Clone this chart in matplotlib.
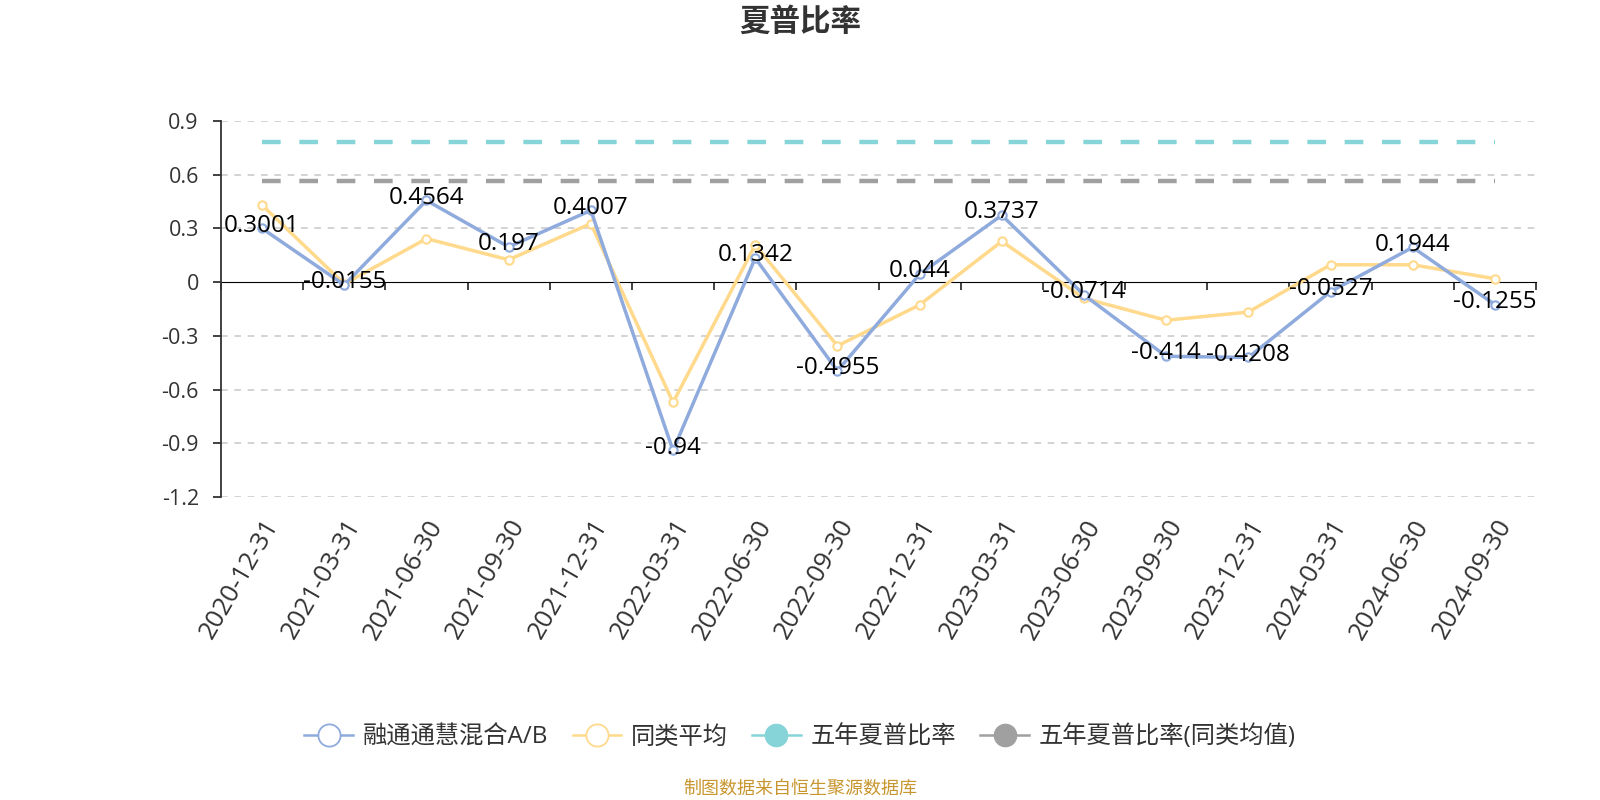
import numpy as np
import matplotlib
matplotlib.use("Agg")
import matplotlib.pyplot as plt
from matplotlib.lines import Line2D

plt.rcParams['font.family'] = ['Open Sans', 'Noto Sans CJK SC', 'DejaVu Sans']

# data
dates = ['2020-12-31', '2021-03-31', '2021-06-30', '2021-09-30', '2021-12-31',
         '2022-03-31', '2022-06-30', '2022-09-30', '2022-12-31', '2023-03-31',
         '2023-06-30', '2023-09-30', '2023-12-31', '2024-03-31', '2024-06-30',
         '2024-09-30']
fund = [0.3001, -0.0155, 0.4564, 0.197, 0.4007, -0.94, 0.1342, -0.4955,
        0.044, 0.3737, -0.0714, -0.414, -0.4208, -0.0527, 0.1944, -0.1255]
peer_avg = [0.43, -0.01, 0.243, 0.125, 0.327, -0.672, 0.208, -0.356,
            -0.127, 0.228, -0.09, -0.213, -0.167, 0.097, 0.097, 0.019]
five_year = 0.785
five_year_peer = 0.565
yticks = [0.9, 0.6, 0.3, 0, -0.3, -0.6, -0.9, -1.2]
ytick_labels = ['0.9', '0.6', '0.3', '0', '-0.3', '-0.6', '-0.9', '-1.2']

c_blue = '#8FAADC'
c_yellow = '#FFD98C'
c_teal = '#86D4D8'
c_gray = '#A0A0A0'
c_text = '#333333'

fig = plt.figure(figsize=(16, 8), dpi=100)
ax = fig.add_axes([221 / 1600, 1 - 497 / 800, (1536 - 221) / 1600, (497 - 121) / 800])

x = np.arange(len(dates))
ax.set_xlim(-0.5, len(dates) - 0.5)
ax.set_ylim(-1.2, 0.9)

# grid
for yv in yticks:
    if yv != 0:
        ax.axhline(yv, color='#CCCCCC', lw=1.2, ls=(0, (4, 4)), zorder=0)

ax.plot(x, [five_year] * len(x), color=c_teal, lw=3.2, dashes=(4.2, 4.2), zorder=2)
ax.plot(x, [five_year_peer] * len(x), color=c_gray, lw=3.2, dashes=(4.2, 4.2), zorder=2)

ax.plot(x, peer_avg, color=c_yellow, lw=2.5, marker='o', ms=6,
        mfc='white', mec=c_yellow, mew=1.5, zorder=3)
ax.plot(x, fund, color=c_blue, lw=2.5, marker='o', ms=6,
        mfc='white', mec=c_blue, mew=1.5, zorder=4)

for xi, v in zip(x, fund):
    ax.annotate(f'{v:g}', (xi, v), xytext=(0, 2), textcoords='offset points',
                ha='center', va='center', fontsize=17.5, color='black', zorder=5)

# spines / ticks
for s in ['top', 'right', 'bottom']:
    ax.spines[s].set_visible(False)
ax.spines['left'].set_color(c_text)
ax.spines['left'].set_linewidth(1.3)
ax.set_yticks(yticks)
ax.set_yticklabels(ytick_labels, fontsize=15.5, color=c_text)
ax.tick_params(axis='y', length=6, width=1.3, color=c_text, pad=10)

ax.set_xticks(x)
ax.set_xticklabels(dates, rotation=60, ha='right', rotation_mode='anchor',
                   fontsize=18.5, color=c_text)
ax.tick_params(axis='x', length=0, pad=13)

# zero axis line with boundary ticks
zero_pos = (0 - (-1.2)) / (0.9 - (-1.2))
sec = ax.secondary_xaxis(zero_pos)
sec.spines['bottom'].set_color(c_text)
sec.spines['bottom'].set_linewidth(1.3)
sec.xaxis.set_ticks_position('bottom')
sec.set_xticks(np.arange(len(dates) + 1) - 0.5)
sec.set_xticklabels([])
sec.tick_params(axis='x', direction='out', length=6, width=1.3, color=c_text)

fig.text(0.5, 1 - 23 / 800, '夏普比率', ha='center', va='center',
         fontsize=22, fontweight='bold', color=c_text)

handles = [
    Line2D([], [], color=c_blue, lw=1.8, marker='o', ms=16, mfc='white', mec=c_blue, mew=1.3),
    Line2D([], [], color=c_yellow, lw=1.8, marker='o', ms=16, mfc='white', mec=c_yellow, mew=1.3),
    Line2D([], [], color=c_teal, lw=1.8, marker='o', ms=16, mfc=c_teal, mec=c_teal),
    Line2D([], [], color=c_gray, lw=1.8, marker='o', ms=16, mfc=c_gray, mec=c_gray),
]
labels = ['融通通慧混合A/B', '同类平均', '五年夏普比率', '五年夏普比率(同类均值)']
fig.legend(handles, labels, loc='center', bbox_to_anchor=(0.5, 1 - 737 / 800),
           ncol=4, frameon=False, fontsize=17.5, handlelength=2.0,
           columnspacing=1.0, handletextpad=0.4, labelcolor=c_text)

fig.text(0.5, 1 - 789 / 800, '制图数据来自恒生聚源数据库', ha='center', va='center',
         fontsize=13, color='#C8962E')

fig.savefig('out.png', dpi=100)
